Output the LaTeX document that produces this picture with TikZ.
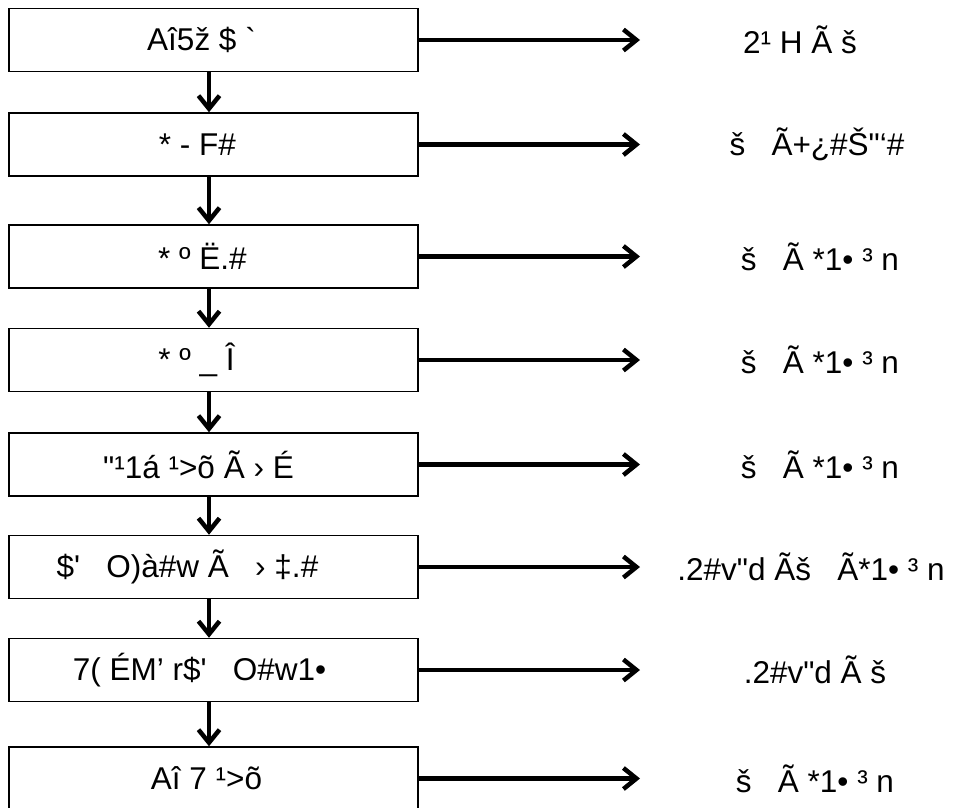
\documentclass[tikz,border=0pt]{standalone}
\usepackage{fontspec}
\newfontfamily\lsans{Liberation Sans}
\usetikzlibrary{arrows.meta}

\tikzset{
  stage/.style={draw, line width=1.5pt, minimum width=409pt, minimum height=63pt, inner sep=0pt},
  stagetext/.style={font=\lsans\fontsize{31.5}{38}\selectfont, inner sep=0pt},
  result/.style={font=\lsans\fontsize{31.5}{38}\selectfont, inner sep=0pt},
  flow/.style={line width=4.5pt, -{Straight Barb[length=13pt,width=21pt]}}
}

\begin{document}
\begin{tikzpicture}[x=1pt,y=-1pt]
	\useasboundingbox (0,0) rectangle (955,807);
	
	% stages on the left
	\node[stage] (s1) at (213.5,40) {};
	\node[stage] (s2) at (213.5,144.5) {};
	\node[stage] (s3) at (213.5,256.5) {};
	\node[stage] (s4) at (213.5,360) {};
	\node[stage] (s5) at (213.5,464.5) {};
	\node[stage] (s6) at (213.5,567) {};
	\node[stage] (s7) at (213.5,670) {};
	\node[stage] (s8) at (213.5,778.5) {};
	
	\node[stagetext] (t1) at ([xshift=-12pt]s1.center) {Aî5ž \$ `};
	\node[stagetext] (t2) at ([xshift=-16pt]s2.center) {* - F\#};
	\node[stagetext] (t3) at ([xshift=-11pt]s3.center) {* º Ë.\#};
	\node[stagetext] (t4) at ([xshift=-17pt]s4.center) {* º \_ Î};
	\node[stagetext] (t5) at ([xshift=-15pt]s5.center) {"¹1á ¹>õ Ã › É};
	\node[stagetext] (t6) at ([xshift=-26pt]s6.center) {\$'\ \ \ O)à\#w Ã\ \ \ › ‡.\#};
	\node[stagetext] (t7) at ([xshift=-14pt]s7.center) {7( ÉM’ r\$'\ \ \ O\#w1•};
	\node[stagetext] (t8) at ([xshift=-7pt]s8.center) {Aî 7 ¹>õ};
	
	% down arrows
	\draw[flow] ([xshift=-4.5pt]s1.south) -- ([xshift=-4.5pt]s2.north);
	\draw[flow] ([xshift=-4.5pt]s2.south) -- ([xshift=-4.5pt]s3.north);
	\draw[flow] ([xshift=-4.5pt]s3.south) -- ([xshift=-4.5pt]s4.north);
	\draw[flow] ([xshift=-4.5pt]s4.south) -- ([xshift=-4.5pt]s5.north);
	\draw[flow] ([xshift=-4.5pt]s5.south) -- ([xshift=-4.5pt]s6.north);
	\draw[flow] ([xshift=-4.5pt]s6.south) -- ([xshift=-4.5pt]s7.north);
	\draw[flow] ([xshift=-4.5pt]s7.south) -- ([xshift=-4.5pt]s8.north);
	
	% arrows to the right
	\coordinate (e1) at (640,40);
	\coordinate (e2) at (640,144.5);
	\coordinate (e3) at (640,256.5);
	\coordinate (e4) at (640,360);
	\coordinate (e5) at (640,464.5);
	\coordinate (e6) at (640,567);
	\coordinate (e7) at (640,670);
	\coordinate (e8) at (640,778.5);
	\draw[flow] (s1.east) -- (e1);
	\draw[flow] (s2.east) -- (e2);
	\draw[flow] (s3.east) -- (e3);
	\draw[flow] (s4.east) -- (e4);
	\draw[flow] (s5.east) -- (e5);
	\draw[flow] (s6.east) -- (e6);
	\draw[flow] (s7.east) -- (e7);
	\draw[flow] (s8.east) -- (e8);
	
	% results
	\node[result] (r1) at (800,40) {2¹ H Ã š};
	\node[result] (r2) at (817,144.5) {š\ \ \ Ã+¿\#Š"‘\#};
	\node[result] (r3) at (820,256.5) {š\ \ \ Ã *1• ³ n};
	\node[result] (r4) at (820,360) {š\ \ \ Ã *1• ³ n};
	\node[result] (r5) at (820,464.5) {š\ \ \ Ã *1• ³ n};
	\node[result] (r6) at (811,567) {.2\#v"d Ãš\ \ \ Ã*1• ³ n};
	\node[result] (r7) at (815,670) {.2\#v"d Ã š};
	\node[result] (r8) at (815,778.5) {š\ \ \ Ã *1• ³ n};
	
\end{tikzpicture}
\end{document}
